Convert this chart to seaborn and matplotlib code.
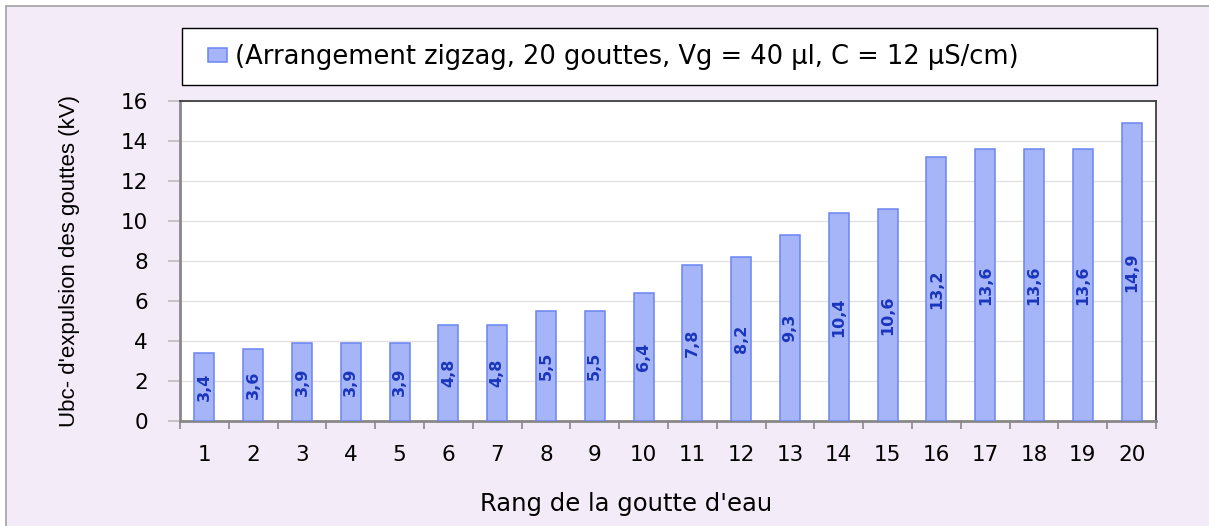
import matplotlib
matplotlib.use("Agg")
import matplotlib.pyplot as plt
from matplotlib.patches import Rectangle
from matplotlib.ticker import MultipleLocator, FixedLocator
import seaborn as sns
import pandas as pd

# Expulsion voltage for each droplet rank
rangs = [str(i) for i in range(1, 21)]
tensions = [3.4, 3.6, 3.9, 3.9, 3.9, 4.8, 4.8, 5.5, 5.5, 6.4,
            7.8, 8.2, 9.3, 10.4, 10.6, 13.2, 13.6, 13.6, 13.6, 14.9]
serie = "(Arrangement zigzag, 20 gouttes, Vg = 40 µl, C = 12 µS/cm)"

df = pd.DataFrame({"rang": rangs, "tension": tensions})

sns.set_theme(style="white")
plt.rcParams["font.family"] = ["DejaVu Sans"]
plt.rcParams["text.color"] = "black"

W, H = 1209, 526
fig = plt.figure(figsize=(W / 100, H / 100), dpi=100, facecolor="white")

# lavender chart area with a thin grey frame
fig.patches.append(Rectangle((6 / W, -0.01), 1.0, 1 - 6 / H + 0.01,
                             transform=fig.transFigure, facecolor="#F3EBF8",
                             edgecolor="#A0A0A0", linewidth=1.2, zorder=-5))

ax = fig.add_axes([180 / W, (H - 421) / H, (1156 - 180) / W, (421 - 101) / H])
ax.set_facecolor("white")

bar_fill = "#A6B4F8"
bar_edge = "#6A84F4"
sns.barplot(data=df, x="rang", y="tension", order=rangs, color=bar_fill,
            width=0.41, edgecolor=bar_edge, linewidth=1.1, saturation=1,
            label=serie, ax=ax, zorder=3)

# value labels, rotated, centred in each bar
for i, v in enumerate(tensions):
    ax.text(i, v / 2, f"{v:.1f}".replace(".", ","), rotation=90,
            ha="center", va="center", fontsize=11.5, fontweight="bold",
            color="#1A36BC", zorder=4)

ax.set_ylim(0, 16)
ax.set_xlim(-0.5, 19.5)
ax.yaxis.set_major_locator(MultipleLocator(2))
ax.grid(axis="y", color="#E2E2E2", linewidth=1.0, zorder=0)
ax.set_axisbelow(True)

# category labels without marks; marks at category boundaries
ax.tick_params(axis="x", which="major", length=0, pad=17, labelsize=15.5, colors="black")
ax.xaxis.set_minor_locator(FixedLocator([k - 0.5 for k in range(0, 21)]))
ax.tick_params(axis="x", which="minor", bottom=True, length=6, width=1.2,
               color="#888888", direction="out")
ax.tick_params(axis="y", which="major", left=True, length=9, width=1.2,
               color="#BBBBBB", direction="out", pad=14, labelsize=15.5,
               labelcolor="black")

for side in ("left", "bottom"):
    ax.spines[side].set_color("#888888")
    ax.spines[side].set_linewidth(2.0)
for side in ("top", "right"):
    ax.spines[side].set_color("#404040")
    ax.spines[side].set_linewidth(1.3)

ax.set_xlabel("Rang de la goutte d'eau", fontsize=17.5, color="black")
ax.xaxis.set_label_coords(0.457, -0.222)
ax.set_ylabel("Ubc- d'expulsion des gouttes (kV)", fontsize=16, color="black",
              family=["Liberation Sans Narrow", "Liberation Sans"])
ax.yaxis.set_label_coords(-0.102, 0.5)

# legend box above the plot
fig.patches.append(Rectangle((182 / W, (H - 85) / H), (1157 - 182) / W, 57 / H,
                             transform=fig.transFigure, facecolor="white",
                             edgecolor="black", linewidth=1.0, zorder=-1))
fs_leg = 18.5
px = fs_leg * 100 / 72
leg = ax.legend(loc="center left", bbox_to_anchor=(208 / W, (H - 57) / H),
                bbox_transform=fig.transFigure, fontsize=fs_leg,
                frameon=False, borderpad=0, borderaxespad=0,
                handlelength=19 / px, handleheight=11 / px,
                handletextpad=8 / px, labelcolor="black")

fig.savefig("out.png", dpi=100, facecolor=fig.get_facecolor())
